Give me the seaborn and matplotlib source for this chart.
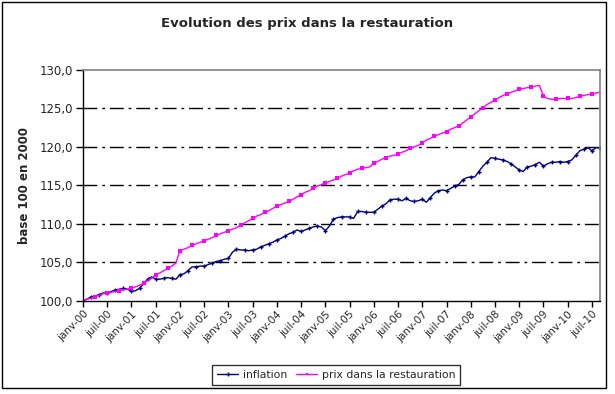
import numpy as np
import pandas as pd
import matplotlib
matplotlib.use("Agg")
import matplotlib.pyplot as plt
import seaborn as sns
from matplotlib.patches import Rectangle
from matplotlib.ticker import FuncFormatter

title = "Evolution des prix dans la restauration"
ylabel = "base 100 en 2000"
series_names = ["inflation", "prix dans la restauration"]

tick_labels = ["janv-00", "juil-00", "janv-01", "juil-01", "janv-02", "juil-02",
               "janv-03", "juil-03", "janv-04", "juil-04", "janv-05", "juil-05",
               "janv-06", "juil-06", "janv-07", "juil-07", "janv-08", "juil-08",
               "janv-09", "juil-09", "janv-10", "juil-10"]

# monthly values, Jan 2000 .. Sep 2010
inflation = [
    100.0, 100.2, 100.5, 100.6, 100.8, 101.0, 101.0, 101.2, 101.4, 101.5, 101.6, 101.5,
    101.2, 101.3, 101.6, 102.2, 102.8, 103.1, 102.8, 102.8, 102.9, 103.0, 102.9, 102.8,
    103.4, 103.5, 103.9, 104.4, 104.4, 104.5, 104.5, 104.7, 104.9, 105.1, 105.2, 105.4,
    105.5, 106.3, 106.7, 106.6, 106.6, 106.5, 106.6, 106.7, 107.0, 107.2, 107.4, 107.6,
    107.9, 108.1, 108.4, 108.7, 108.9, 109.2, 109.0, 109.2, 109.4, 109.6, 109.7, 109.6,
    109.1, 109.7, 110.6, 110.8, 110.9, 110.9, 110.9, 110.7, 111.6, 111.6, 111.5, 111.5,
    111.5, 111.9, 112.3, 112.6, 113.1, 113.2, 113.2, 113.0, 113.3, 113.0, 112.9, 113.0,
    113.2, 112.8, 113.4, 114.0, 114.3, 114.4, 114.3, 114.6, 114.9, 115.1, 115.7, 116.0,
    116.1, 116.1, 116.8, 117.5, 118.0, 118.6, 118.5, 118.4, 118.3, 118.1, 117.8, 117.4,
    117.0, 116.8, 117.4, 117.5, 117.7, 118.0, 117.5, 117.8, 118.0, 118.0, 118.1, 118.0,
    118.1, 118.3, 118.9, 119.5, 119.7, 119.9, 119.5, 119.9, 119.9]

restauration = [
    100.0, 100.2, 100.3, 100.5, 100.7, 100.9, 101.0, 101.1, 101.2, 101.3, 101.4, 101.5,
    101.6, 101.8, 102.0, 102.3, 102.6, 102.9, 103.4, 103.6, 103.9, 104.2, 104.5, 104.9,
    106.5, 106.7, 106.9, 107.2, 107.4, 107.6, 107.8, 108.0, 108.2, 108.5, 108.7, 108.9,
    109.1, 109.3, 109.5, 109.8, 110.1, 110.4, 110.7, 111.0, 111.2, 111.5, 111.7, 112.0,
    112.3, 112.5, 112.7, 112.9, 113.2, 113.5, 113.8, 114.1, 114.3, 114.6, 114.9, 115.1,
    115.3, 115.5, 115.7, 115.9, 116.2, 116.4, 116.6, 116.9, 117.1, 117.2, 117.3, 117.4,
    117.9, 118.1, 118.4, 118.6, 118.8, 118.9, 119.1, 119.3, 119.5, 119.8, 120.0, 120.2,
    120.5, 120.9, 121.1, 121.4, 121.6, 121.8, 122.0, 122.3, 122.5, 122.7, 123.1, 123.5,
    123.9, 124.3, 124.7, 125.1, 125.5, 125.8, 126.1, 126.4, 126.7, 126.9, 127.1, 127.3,
    127.5, 127.6, 127.7, 127.8, 127.9, 128.0, 126.6, 126.3, 126.2, 126.2, 126.3, 126.3,
    126.3, 126.3, 126.4, 126.6, 126.7, 126.8, 126.9, 127.0, 127.1]

months = np.arange(len(inflation))
df = pd.DataFrame({"mois": months, series_names[0]: inflation, series_names[1]: restauration})

sns.set_theme(style="white")
plt.rcParams["font.family"] = ["DejaVu Sans"]

fig = plt.figure(figsize=(6.15, 3.94), dpi=100)
ax = fig.add_axes([83 / 615, 1 - 300.7 / 394, (600 - 83) / 615, (300.7 - 70) / 394])

sns.lineplot(data=df, x="mois", y=series_names[0], ax=ax, color="#000080",
             linewidth=1.0, marker="+", markersize=3.5, markeredgewidth=1.0,
             markeredgecolor="#000080", markevery=2, label=series_names[0])
sns.lineplot(data=df, x="mois", y=series_names[1], ax=ax, color="#FF00FF",
             linewidth=1.0, marker="s", markersize=2.3, markeredgewidth=0,
             markerfacecolor="#FF00FF", markevery=3, label=series_names[1])

ax.set_xlim(months[0], months[-1])
ax.set_ylim(100, 130)
ax.set_yticks(np.arange(100, 131, 5))
ax.yaxis.set_major_formatter(FuncFormatter(lambda v, p: f"{v:.1f}".replace(".", ",")))
ax.set_xticks(months[::6][:len(tick_labels)])
ax.set_xticklabels(tick_labels, rotation=45, ha="right", rotation_mode="anchor")

ax.set_xlabel("")
ax.set_ylabel(ylabel, fontsize=8.5, fontweight="bold", labelpad=6)
ax.tick_params(axis="y", labelsize=8.5, direction="out", length=5, width=1, color="black", pad=2)
ax.tick_params(axis="x", labelsize=7.5, direction="out", length=4, width=1, color="black", pad=2)
ax.tick_params(left=True, bottom=True)

ax.grid(True, axis="y", color="black", linewidth=1.0, linestyle=(0, (10, 3.5, 2, 3.5)))
ax.grid(False, axis="x")
ax.set_axisbelow(True)
yt = ax.yaxis.get_major_ticks()
yt[0].gridline.set_visible(False)
yt[-1].gridline.set_visible(False)

for s in ["left", "bottom"]:
    ax.spines[s].set_color("black")
    ax.spines[s].set_linewidth(1.0)
for s in ["top", "right"]:
    ax.spines[s].set_color("#808080")
    ax.spines[s].set_linewidth(1.2)

fig.text(307 / 615, 1 - 24 / 394, title, ha="center", va="center",
         fontsize=9.5, fontweight="bold")

handles, labels = ax.get_legend_handles_labels()
ax.legend_.remove()
leg = fig.legend(handles, labels, loc="center", bbox_to_anchor=(336 / 615, 1 - 375 / 394),
                 ncol=2, frameon=True, fontsize=7.8, handlelength=2.0, columnspacing=0.8,
                 handletextpad=0.4, borderpad=0.45, fancybox=False, markerscale=0.8)
leg.get_frame().set_edgecolor("black")
leg.get_frame().set_linewidth(1.0)

fig.patches.append(Rectangle((2 / 615, 1 - 388 / 394), 604 / 615, 386 / 394,
                             transform=fig.transFigure, fill=False,
                             edgecolor="black", linewidth=1.0))

fig.savefig("out.png", dpi=100)
